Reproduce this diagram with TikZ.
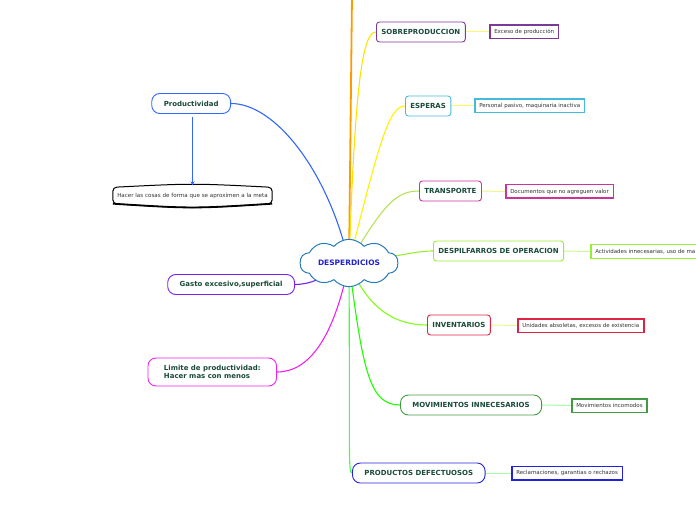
\documentclass[tikz,border=0pt]{standalone}
\usepackage{fontspec}
\setmainfont{DejaVu Sans}
\usetikzlibrary{arrows.meta,positioning,shapes.symbols,backgrounds}

\definecolor{hubline}{HTML}{2A7AB8}
\definecolor{hubtext}{HTML}{2222CC}
\definecolor{topictext}{HTML}{1A4A38}
\definecolor{leaftext}{HTML}{333333}
\definecolor{orangec}{HTML}{FF9900}
\definecolor{sobrec}{HTML}{7B3A96}
\definecolor{esperac}{HTML}{44BBDD}
\definecolor{transc}{HTML}{CC3399}
\definecolor{despc}{HTML}{99EE33}
\definecolor{invc}{HTML}{DD2244}
\definecolor{movc}{HTML}{449944}
\definecolor{prodc}{HTML}{2222DD}
\definecolor{productc}{HTML}{3366FF}
\definecolor{gastoc}{HTML}{7722EE}
\definecolor{limitec}{HTML}{EE22EE}

\begin{document}
\begin{tikzpicture}[
    x=1bp, y=-1bp,
    >=Stealth,
    hub/.style={cloud, cloud puffs=10, cloud puff arc=100, aspect=2.4, draw=hubline, line width=1bp, fill=white, minimum width=98bp, minimum height=42bp, inner sep=0pt, font=\fontsize{7.5}{9}\selectfont\bfseries, text=hubtext},
    topic/.style={draw, rounded corners=3bp, line width=0.9bp, fill=white, minimum height=20bp, inner xsep=5bp, font=\fontsize{7}{8.5}\selectfont\bfseries, text=topictext},
    pill/.style={topic, rounded corners=8bp, inner xsep=12bp},
    leaf/.style={draw, line width=1.5bp, fill=white, minimum height=13.5bp, inner xsep=4.5bp, inner ysep=2bp, anchor=west, font=\fontsize{5.5}{6.5}\selectfont, text=leaftext},
    metabox/.style={minimum width=159bp, minimum height=16bp, font=\fontsize{5.6}{6.5}\selectfont, text=leaftext},
    link/.style={line width=1.1bp},
    twig/.style={line width=1bp},
    arr/.style={->, line width=0.9bp, >={Stealth[length=4bp,width=4bp]}},
]
\useasboundingbox (0,0) rectangle (696,520);

% Hub
\node[hub] (hub) at (349,263) {DESPERDICIOS};
\coordinate (offpage) at (352,-4);

% Right branches
\node[topic, draw=sobrec, anchor=west] (sobre) at (376,32) {SOBREPRODUCCION};
\node[leaf, draw=sobrec] (exceso) at (489,32) {Exceso de producción};
\node[topic, draw=esperac, anchor=west] (esperas) at (405,106) {ESPERAS};
\node[leaf, draw=esperac] (pasivo) at (474,106) {Personal pasivo, maquinaria inactiva};
\node[topic, draw=transc, anchor=west] (transporte) at (419,191) {TRANSPORTE};
\node[leaf, draw=transc] (documentos) at (505,191.5) {Documentos que no agreguen valor};
\node[topic, draw=despc, anchor=west] (despilfarros) at (433,251) {DESPILFARROS DE OPERACION};
\node[leaf, draw=despc] (actividades) at (590,251.5) {Actividades innecesarias, uso de ma};
\node[topic, draw=invc, anchor=west] (inventarios) at (427,325) {INVENTARIOS};
\node[leaf, draw=invc] (unidades) at (517,325.5) {Unidades absoletas, excesos de existencia};
\node[pill, draw=movc, anchor=west] (movimientos) at (400,405) {MOVIMIENTOS INNECESARIOS};
\node[leaf, draw=movc] (incomodos) at (571,405.5) {Movimientos incomodos};
\node[pill, draw=prodc, anchor=west] (productos) at (352,473) {PRODUCTOS DEFECTUOSOS};
\node[leaf, draw=prodc] (reclamaciones) at (511,473) {Reclamaciones, garantias o rechazos};

% Left branches
\node[pill, draw=productc, anchor=east] (productividad) at (231,103.5) {Productividad};
\node[metabox] (meta) at (192.5,195.5) {Hacer las cosas de forma que se aproximen a la meta};
\node[pill, draw=gastoc, anchor=east] (gasto) at (295,284.5) {Gasto excesivo,superficial};
\node[pill, draw=limitec, anchor=east, align=left, minimum height=28bp, inner xsep=16bp] (limite) at (277,372) {Limite de productividad:\\Hacer mas con menos};

% Outline of the tape box
\draw[line width=1bp, rounded corners=4bp] (meta.north west) .. controls ([yshift=4bp]meta.north) .. (meta.north east) -- (meta.south east) .. controls ([yshift=-5bp]meta.south) .. (meta.south west) -- cycle;
\draw[line width=1.8bp] (meta.south east) .. controls ([yshift=-5bp]meta.south) .. (meta.south west);
\draw[arr, draw=productc] ([yshift=-3bp]productividad.south -| meta.north) -- ([yshift=2bp]meta.north);

% Connectors from the hub
\begin{scope}[on background layer]
\draw[link, draw=orangec, line width=1.8bp] (hub.center) -- (offpage);
\draw[link, draw=yellow!85!orange] (hub.center) .. controls +(6,-175) and +(-14,0) .. (sobre.west);
\draw[link, draw=yellow] (hub.center) .. controls +(30,-120) and +(-16,0) .. (esperas.west);
\draw[link, draw=yellow!60!green!70!white] (hub.center) .. controls +(35,-60) and +(-22,0) .. (transporte.west);
\draw[link, draw=despc] (hub.center) .. controls +(50,-6) and +(-20,0) .. (despilfarros.west);
\draw[link, draw=green!40!lime!90!white] (hub.center) .. controls +(20,50) and +(-28,0) .. (inventarios.west);
\draw[link, draw=green!85!lime] (hub.center) .. controls +(14,110) and +(-30,0) .. (movimientos.west);
\draw[link, draw=green!75!white] (hub.center) .. controls +(1,190) and +(-4,0) .. (productos.west);
\draw[link, draw=productc] (hub.center) .. controls +(-20,-90) and +(45,0) .. (productividad.east);
\draw[link, draw=gastoc] (hub.center) .. controls +(-25,15) and +(15,0) .. (gasto.east);
\draw[link, draw=limitec] (hub.center) .. controls +(-15,75) and +(32,0) .. (limite.east);
% Connectors to the details
\draw[twig, draw=yellow!55] (sobre.east) -- (exceso.west);
\draw[twig, draw=yellow!60] (esperas.east) -- (pasivo.west);
\draw[twig, draw=yellow!40!lime!45] (transporte.east) -- (documentos.west);
\draw[twig, draw=despc!50] (despilfarros.east) -- (actividades.west);
\draw[twig, draw=lime!45] (inventarios.east) -- (unidades.west);
\draw[twig, draw=green!35] (movimientos.east) -- (incomodos.west);
\draw[twig, draw=green!35] (productos.east) -- (reclamaciones.west);
\end{scope}
\end{tikzpicture}
\end{document}
